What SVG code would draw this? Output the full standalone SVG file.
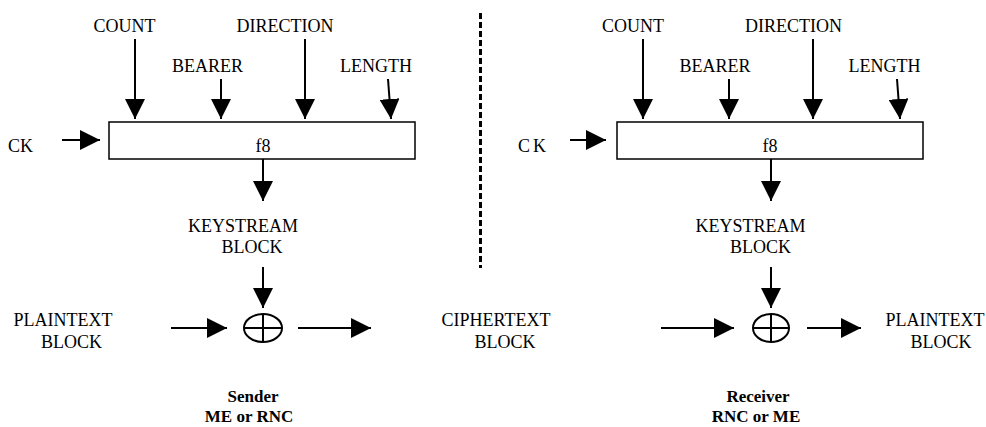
<svg xmlns="http://www.w3.org/2000/svg" width="986" height="427" viewBox="0 0 986 427">
<style>
text{font-family:"Liberation Serif","Times New Roman",Times,"DejaVu Serif",serif;font-size:18px;fill:#000}
.b{font-weight:bold;font-size:17px}
.m{text-anchor:middle}
.ln{stroke:#000;stroke-width:2;fill:none}
.box{fill:#fff;stroke:#000;stroke-width:1.5}
.x{fill:#fff;stroke:#000;stroke-width:2}
</style>
<defs>
<marker id="ah" viewBox="0 0 20 20" refX="20" refY="10" markerWidth="20" markerHeight="20" markerUnits="userSpaceOnUse" orient="auto">
<path d="M0,0 L20,10 L0,20 Z" fill="#000"/>
</marker>
</defs>
<rect width="986" height="427" fill="#fff"/>

<g id="connectors">
<line class="ln" x1="135" y1="39" x2="135" y2="119" marker-end="url(#ah)"/>
<line class="ln" x1="221" y1="79" x2="221" y2="119" marker-end="url(#ah)"/>
<line class="ln" x1="305" y1="39" x2="305" y2="119" marker-end="url(#ah)"/>
<line class="ln" x1="388" y1="79" x2="391" y2="119" marker-end="url(#ah)"/>
<line class="ln" x1="62" y1="140" x2="100" y2="140" marker-end="url(#ah)"/>
<line class="ln" x1="263" y1="159" x2="263" y2="201" marker-end="url(#ah)"/>
<line class="ln" x1="263" y1="267" x2="263" y2="308" marker-end="url(#ah)"/>
<line class="ln" x1="171" y1="328" x2="227" y2="328" marker-end="url(#ah)"/>
<line class="ln" x1="298" y1="328" x2="371" y2="328" marker-end="url(#ah)"/>
<line class="ln" x1="643" y1="39" x2="643" y2="119" marker-end="url(#ah)"/>
<line class="ln" x1="729" y1="79" x2="729" y2="119" marker-end="url(#ah)"/>
<line class="ln" x1="813" y1="39" x2="813" y2="119" marker-end="url(#ah)"/>
<line class="ln" x1="897" y1="79" x2="900" y2="119" marker-end="url(#ah)"/>
<line class="ln" x1="570" y1="140" x2="606" y2="140" marker-end="url(#ah)"/>
<line class="ln" x1="771" y1="159" x2="771" y2="201" marker-end="url(#ah)"/>
<line class="ln" x1="771" y1="267" x2="771" y2="308" marker-end="url(#ah)"/>
<line class="ln" x1="661" y1="328" x2="734" y2="328" marker-end="url(#ah)"/>
<line class="ln" x1="807" y1="328" x2="861" y2="328" marker-end="url(#ah)"/>
</g>

<line id="divider" x1="480.5" y1="13" x2="480.5" y2="268" stroke="#000" stroke-width="3" stroke-dasharray="6 3"/>

<g id="sender-inputs">
<text class="m" x="124.5" y="32">COUNT</text>
<text class="m" x="207.5" y="72">BEARER</text>
<text class="m" x="285" y="32">DIRECTION</text>
<text class="m" x="376" y="72">LENGTH</text>
<text x="8" y="152">CK</text>
</g>
<g id="sender-f8">
<rect class="box" x="109" y="122" width="306" height="37"/>
<text class="m" x="263" y="152">f8</text>
</g>
<g id="sender-keystream">
<text class="m" x="243" y="232">KEYSTREAM</text>
<text class="m" x="252" y="253">BLOCK</text>
</g>
<g id="sender-xor">
<ellipse class="x" cx="263" cy="328" rx="19" ry="14"/>
<line class="ln" x1="244" y1="328" x2="282" y2="328"/>
<line class="ln" x1="263" y1="314" x2="263" y2="342"/>
</g>
<g id="sender-plaintext">
<text class="m" x="63" y="326">PLAINTEXT</text>
<text class="m" x="71.5" y="348">BLOCK</text>
</g>
<g id="ciphertext">
<text class="m" x="496" y="326">CIPHERTEXT</text>
<text class="m" x="505" y="348">BLOCK</text>
</g>
<g id="sender-label">
<text class="m b" x="253" y="402">Sender</text>
<text class="m b" x="249" y="422">ME or RNC</text>
</g>

<g id="receiver-inputs">
<text class="m" x="633" y="32">COUNT</text>
<text class="m" x="715" y="72">BEARER</text>
<text class="m" x="793.5" y="32">DIRECTION</text>
<text class="m" x="884.5" y="72">LENGTH</text>
<text x="518" y="152" letter-spacing="3">CK</text>
</g>
<g id="receiver-f8">
<rect class="box" x="617" y="122" width="306" height="37"/>
<text class="m" x="770" y="152">f8</text>
</g>
<g id="receiver-keystream">
<text class="m" x="750.5" y="232">KEYSTREAM</text>
<text class="m" x="760.5" y="253">BLOCK</text>
</g>
<g id="receiver-xor">
<ellipse class="x" cx="771" cy="328" rx="18" ry="14"/>
<line class="ln" x1="753" y1="328" x2="789" y2="328"/>
<line class="ln" x1="771" y1="314" x2="771" y2="342"/>
</g>
<g id="receiver-plaintext">
<text class="m" x="935" y="326">PLAINTEXT</text>
<text class="m" x="941" y="348">BLOCK</text>
</g>
<g id="receiver-label">
<text class="m b" x="758" y="402">Receiver</text>
<text class="m b" x="756" y="422">RNC or ME</text>
</g>
</svg>
